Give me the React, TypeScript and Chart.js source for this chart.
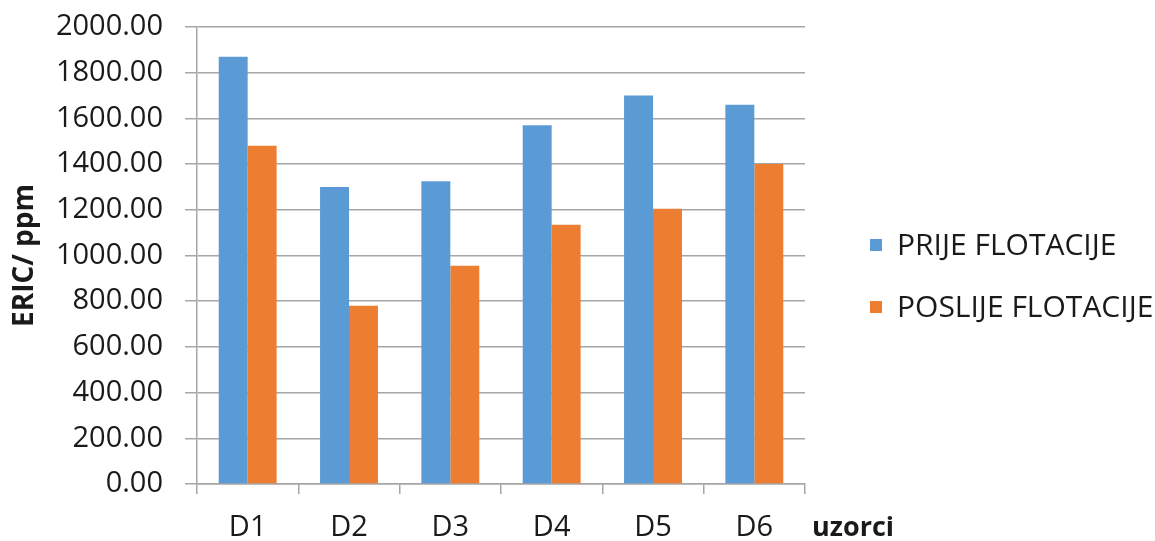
import React, { useEffect, useRef } from "react";
import { Chart, registerables } from "chart.js";

Chart.register(...registerables);

const categories = ["D1", "D2", "D3", "D4", "D5", "D6"];
const seriesNames = ["PRIJE FLOTACIJE", "POSLIJE FLOTACIJE"];
const prijeValues = [1870, 1300, 1325, 1570, 1700, 1660];
const poslijeValues = [1480, 780, 955, 1135, 1205, 1400];
const seriesColors = ["#5B9BD5", "#ED7D31"];
const yTitle = "ERIC/ ppm";
const xTitle = "uzorci";

const FONT = "'Open Sans', sans-serif";
const GRID = "#a6a6a6";
const TEXT = "#1a1a1a";

const extrasPlugin = {
  id: "extras",
  afterDraw(chart: any) {
    const ctx = chart.ctx;
    const area = chart.chartArea;
    ctx.save();
    // x-axis title to the right of the tick labels
    ctx.font = `bold 27px ${FONT}`;
    ctx.fillStyle = TEXT;
    ctx.textAlign = "left";
    ctx.textBaseline = "middle";
    ctx.fillText(xTitle, area.right + 7, 528);
    // legend
    const legendX = 870;
    const legendYs = [245, 307];
    chart.data.datasets.forEach((ds: any, i: number) => {
      const y = legendYs[i];
      ctx.fillStyle = ds.backgroundColor;
      ctx.fillRect(legendX, y - 6, 12, 12);
      ctx.fillStyle = TEXT;
      ctx.font = `30px ${FONT}`;
      ctx.textAlign = "left";
      ctx.textBaseline = "middle";
      ctx.fillText(ds.label, legendX + 27, y + 1);
    });
    ctx.restore();
  },
};

export default function App() {
  const ref = useRef<HTMLCanvasElement | null>(null);
  useEffect(() => {
    if (!ref.current) return;
    const chart = new Chart(ref.current, {
      type: "bar",
      data: {
        labels: categories,
        datasets: [
          {
            label: seriesNames[0],
            data: prijeValues,
            backgroundColor: seriesColors[0],
            categoryPercentage: 2 / 3.5,
            barPercentage: 1,
          },
          {
            label: seriesNames[1],
            data: poslijeValues,
            backgroundColor: seriesColors[1],
            categoryPercentage: 2 / 3.5,
            barPercentage: 1,
          },
        ],
      },
      options: {
        animation: false,
        responsive: false,
        maintainAspectRatio: false,
        layout: { padding: { top: 27, right: 350, left: 0, bottom: 0 } },
        plugins: {
          legend: { display: false },
          tooltip: { enabled: false },
        },
        scales: {
          x: {
            grid: {
              offset: true,
              drawOnChartArea: false,
              drawTicks: true,
              tickLength: 10,
              color: GRID,
              lineWidth: 1.5,
            },
            border: { color: GRID, width: 1.5 },
            ticks: {
              color: TEXT,
              font: { family: FONT, size: 29 },
              padding: 16,
            },
            afterFit: (scale: any) => {
              scale.height = 57;
              scale.paddingLeft = 0;
              scale.paddingRight = 0;
            },
          },
          y: {
            min: 0,
            max: 2000,
            ticks: {
              stepSize: 200,
              color: TEXT,
              font: { family: FONT, size: 29 },
              padding: 22,
              callback: (v: any) => Number(v).toFixed(2),
            },
            grid: {
              color: GRID,
              lineWidth: 1.5,
              tickLength: 12,
            },
            border: { color: GRID, width: 1.5 },
            title: {
              display: true,
              text: yTitle,
              color: TEXT,
              font: { family: FONT, size: 28, weight: "bold" },
              padding: { top: 8, bottom: 0 },
            },
            afterFit: (scale: any) => {
              scale.width = 197;
              scale.paddingTop = 0;
              scale.paddingBottom = 0;
            },
          },
        },
      },
      plugins: [extrasPlugin],
    });
    return () => chart.destroy();
  }, []);
  return (
    <div style={{ position: "absolute", left: 0, top: 0, width: 1155, height: 541, background: "#fff" }}>
      <canvas ref={ref} width={1155} height={541} style={{ width: 1155, height: 541 }} />
    </div>
  );
}
